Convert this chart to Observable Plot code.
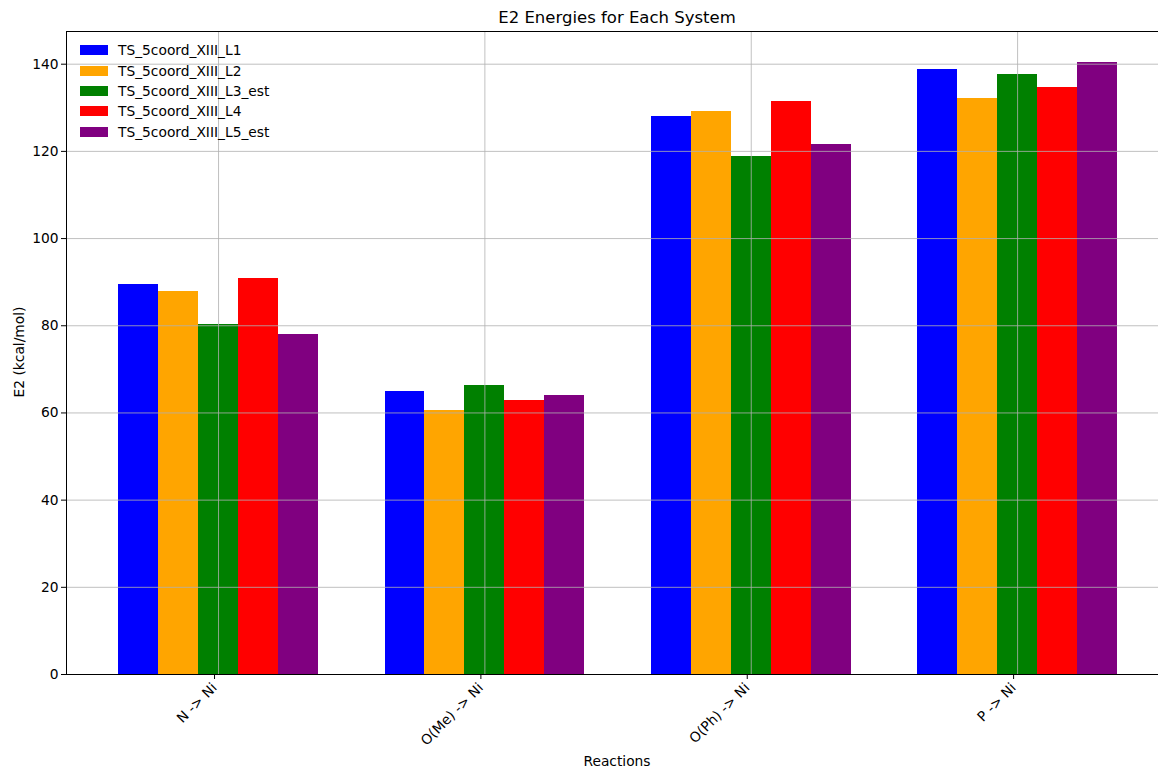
<!DOCTYPE html>
<html><head><meta charset="utf-8">
<script src="https://cdn.jsdelivr.net/npm/d3@7"></script>
<script src="https://cdn.jsdelivr.net/npm/@observablehq/plot@0.6"></script>
<style>
body{margin:0;background:#fff;font-family:"DejaVu Sans",sans-serif;}
#wrap{position:relative;width:1158px;height:769px;overflow:hidden;}
#wrap svg{position:absolute;left:0;top:0;}
.t{position:absolute;color:#000;white-space:nowrap;}
#title{left:617px;top:17px;transform:translate(-50%,-50%);font-size:16.5px;}
#ylab{left:19px;top:352px;transform:translate(-50%,-50%) rotate(-90deg);font-size:13.8px;}
#xlab{left:617px;top:761px;transform:translate(-50%,-50%);font-size:13.8px;}
#legend{position:absolute;left:80px;top:40px;font-size:13.8px;}
#legend .row{display:flex;align-items:center;height:20.4px;}
#legend .sw{width:28px;height:10px;margin-right:10px;}
</style></head><body>
<div id="wrap">
  <div id="plot"></div>
  <div class="t" id="title">E2 Energies for Each System</div>
  <div class="t" id="ylab">E2 (kcal/mol)</div>
  <div class="t" id="xlab">Reactions</div>
  <div id="legend"></div>
</div>
<script>
const reactions = ["N -> Ni", "O(Me) -> Ni", "O(Ph) -> Ni", "P -> Ni"];
const systems = ["TS_5coord_XIII_L1", "TS_5coord_XIII_L2", "TS_5coord_XIII_L3_est", "TS_5coord_XIII_L4", "TS_5coord_XIII_L5_est"];
const colors = ["blue", "orange", "green", "red", "purple"];
const L1 = [89.5, 64.9, 128.0, 138.8];
const L2 = [87.9, 60.6, 129.2, 132.1];
const L3_est = [80.3, 66.3, 118.8, 137.6];
const L4 = [90.9, 62.9, 131.5, 134.6];
const L5_est = [78.0, 64.0, 121.6, 140.4];
const yTicks = [0, 20, 40, 60, 80, 100, 120, 140];
const xDomain = [-0.5708, 3.529];
const yDomain = [0, 147.5];
const barWidth = 0.15;

const series = [L1, L2, L3_est, L4, L5_est];
const rows = [];
series.forEach((vals, j) => {
  vals.forEach((v, i) => {
    const c = i + (j - (series.length - 1) / 2) * barWidth;
    rows.push({reaction: reactions[i], system: systems[j], value: v, x1: c - barWidth / 2, x2: c + barWidth / 2});
  });
});

const gridColor = "#b0b0b0";
const chart = Plot.plot({
  width: 1158,
  height: 769,
  marginLeft: 66,
  marginRight: 0,
  marginTop: 31,
  marginBottom: 95,
  style: {fontFamily: "DejaVu Sans", fontSize: "13.8px", color: "#000", background: "transparent"},
  x: {type: "linear", domain: xDomain, axis: null},
  y: {domain: yDomain, axis: null},
  color: {domain: systems, range: colors},
  marks: [
    Plot.rectY(rows, {x1: "x1", x2: "x2", y: "value", fill: "system", shapeRendering: "crispEdges"}),
    Plot.gridY(yTicks, {stroke: gridColor, strokeOpacity: 1, strokeWidth: 0.8}),
    Plot.gridX([0, 1, 2, 3], {stroke: gridColor, strokeOpacity: 1, strokeWidth: 0.8}),
    Plot.ruleY([yDomain[0]], {stroke: "#000", strokeWidth: 1}),
    Plot.ruleY([yDomain[1]], {stroke: "#000", strokeWidth: 1}),
    Plot.ruleX([xDomain[0]], {stroke: "#000", strokeWidth: 1}),
    Plot.axisY(yTicks, {tickSize: 5, tickPadding: 3, label: null, fontSize: 13.8, stroke: "#000"}),
    Plot.axisX([0, 1, 2, 3], {tickSize: 5, tickFormat: i => reactions[i], tickRotate: -45, textAnchor: "end", tickPadding: 6, dx: -4, label: null, fontSize: 13.8, stroke: "#000"})
  ]
});
document.getElementById("plot").appendChild(chart);

const leg = document.getElementById("legend");
systems.forEach((s, j) => {
  const r = document.createElement("div");
  r.className = "row";
  r.innerHTML = `<div class="sw" style="background:${colors[j]}"></div><span>${s}</span>`;
  leg.appendChild(r);
});
</script>
</body></html>
